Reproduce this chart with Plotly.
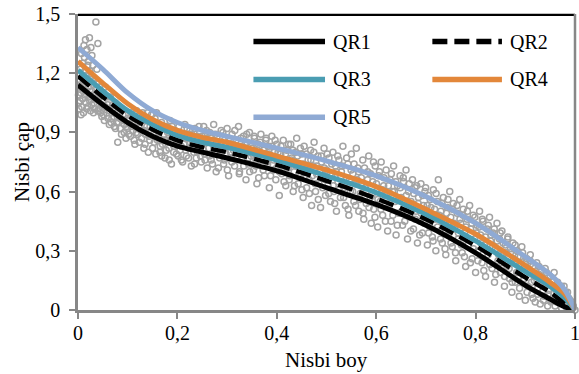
import plotly.graph_objects as go

# ---------------- data ----------------
curve_x = [0.0, 0.05, 0.10, 0.15, 0.20, 0.25, 0.30, 0.40, 0.50, 0.60, 0.70, 0.80, 0.90, 0.95, 0.98, 1.0]
qr1 = [1.14, 1.04, 0.95, 0.88, 0.83, 0.80, 0.77, 0.705, 0.62, 0.535, 0.43, 0.29, 0.125, 0.055, 0.015, 0.0]
qr2 = [1.185, 1.08, 0.985, 0.915, 0.86, 0.825, 0.80, 0.735, 0.655, 0.565, 0.46, 0.325, 0.165, 0.09, 0.03, 0.0]
qr3 = [1.215, 1.11, 1.01, 0.94, 0.885, 0.85, 0.825, 0.76, 0.68, 0.595, 0.485, 0.35, 0.195, 0.12, 0.06, 0.0]
qr4 = [1.26, 1.15, 1.045, 0.965, 0.91, 0.875, 0.85, 0.78, 0.71, 0.625, 0.51, 0.385, 0.225, 0.14, 0.08, 0.0]
qr5 = [1.33, 1.22, 1.10, 1.01, 0.95, 0.91, 0.88, 0.82, 0.755, 0.68, 0.575, 0.44, 0.27, 0.18, 0.10, 0.0]

series_names = ["QR1", "QR2", "QR3", "QR4", "QR5"]

observed_points = [
    (0.002,1.02),(0.004,1.06),(0.006,1.10),(0.003,1.14),(0.008,1.18),(0.005,1.22),(0.010,1.25),(0.007,1.30),
    (0.012,1.34),(0.015,1.37),(0.018,1.32),(0.013,1.28),(0.016,1.05),(0.011,1.00),(0.014,1.09),(0.009,1.12),
    (0.020,1.03),(0.022,1.08),(0.019,1.15),(0.024,1.21),(0.021,1.26),(0.026,1.33),(0.028,1.29),(0.030,1.24),
    (0.025,1.01),(0.027,1.11),(0.032,1.05),(0.034,1.17),(0.036,1.46),(0.038,1.22),(0.040,1.35),(0.001,1.09),
    (0.006,0.99),(0.017,1.19),(0.023,1.38),(0.031,1.00),(0.035,1.12),(0.039,1.08),(0.004,1.16),(0.029,1.17),
    (0.042,1.02),(0.045,1.10),(0.048,0.98),(0.050,1.06),(0.053,0.96),(0.055,1.13),(0.058,1.00),(0.060,1.04),
    (0.063,0.94),(0.065,1.08),(0.068,0.97),(0.070,1.01),(0.073,0.93),(0.075,1.05),(0.078,0.95),(0.080,0.85),
    (0.082,0.99),(0.085,0.92),(0.088,1.02),(0.090,0.96),(0.093,0.90),(0.095,0.99),(0.098,0.93),
    (0.100,0.97),(0.102,0.89),(0.105,0.94),(0.108,1.00),(0.110,0.91),(0.113,0.86),(0.115,0.95),(0.118,1.01),
    (0.120,0.89),(0.123,0.93),(0.125,0.99),(0.128,0.87),(0.130,1.00),(0.133,0.91),(0.135,0.84),(0.138,0.96),
    (0.140,1.00),(0.143,0.88),(0.145,0.93),(0.148,0.99),(0.150,0.82),(0.153,0.90),(0.155,0.97),(0.158,1.00),
    (0.160,0.86),
    (0.163,0.92),(0.165,0.80),(0.168,0.95),(0.170,0.84),(0.173,0.89),(0.175,0.77),(0.178,0.93),(0.180,0.86),
    (0.183,0.82),(0.185,0.96),(0.188,0.74),(0.190,0.88),(0.193,0.83),(0.195,0.91),(0.198,0.79),(0.200,0.86),
    (0.203,0.93),(0.205,0.81),(0.208,0.76),(0.210,0.89),(0.213,0.84),(0.215,0.94),(0.218,0.78),(0.220,0.87),
    (0.223,0.82),(0.225,0.91),(0.228,0.73),(0.230,0.85),(0.233,0.80),(0.235,0.92),(0.238,0.77),(0.240,0.88),
    (0.243,0.83),(0.245,0.90),(0.248,0.75),
    (0.250,0.84),(0.253,0.93),(0.255,0.79),(0.258,0.87),(0.260,0.72),(0.263,0.82),(0.265,0.90),(0.268,0.76),
    (0.270,0.85),(0.273,0.94),(0.275,0.80),(0.278,0.70),(0.280,0.88),(0.283,0.83),(0.285,0.77),(0.288,0.91),
    (0.290,0.81),(0.293,0.74),(0.295,0.86),(0.298,0.79),(0.300,0.92),(0.303,0.68),(0.305,0.84),(0.308,0.77),
    (0.310,0.89),(0.313,0.81),(0.315,0.73),(0.318,0.86),(0.320,0.78),(0.323,0.93),(0.325,0.70),(0.328,0.83),
    (0.330,0.76),(0.333,0.88),(0.335,0.80),(0.338,0.66),(0.340,0.85),(0.343,0.74),(0.345,0.90),(0.348,0.78),
    (0.350,0.82),(0.353,0.71),(0.355,0.87),(0.358,0.76),(0.360,0.64),(0.363,0.84),(0.365,0.79),(0.368,0.89),
    (0.370,0.73),(0.373,0.81),(0.375,0.68),(0.378,0.86),(0.380,0.75),(0.383,0.83),(0.385,0.62),(0.388,0.78),
    (0.390,0.88),(0.393,0.71),(0.395,0.80),(0.398,0.66),
    (0.400,0.84),(0.403,0.74),(0.405,0.58),(0.408,0.79),(0.410,0.69),(0.413,0.86),(0.415,0.76),(0.418,0.63),
    (0.420,0.81),(0.423,0.72),(0.425,0.66),(0.428,0.84),(0.430,0.77),(0.433,0.60),(0.435,0.70),(0.438,0.80),
    (0.440,0.87),(0.443,0.64),(0.445,0.74),(0.448,0.68),(0.450,0.79),(0.453,0.57),(0.455,0.83),(0.458,0.71),
    (0.460,0.62),(0.463,0.76),(0.465,0.66),(0.468,0.81),(0.470,0.53),(0.473,0.73),(0.475,0.85),(0.478,0.60),
    (0.480,0.69),(0.483,0.78),(0.485,0.64),(0.488,0.52),(0.490,0.75),(0.493,0.67),(0.495,0.82),(0.498,0.58),
    (0.500,0.71),(0.503,0.63),(0.505,0.77),(0.508,0.55),(0.510,0.68),(0.513,0.80),(0.515,0.60),(0.518,0.73),
    (0.520,0.50),(0.523,0.65),(0.525,0.76),(0.528,0.57),(0.530,0.70),(0.533,0.83),(0.535,0.62),(0.538,0.53),
    (0.540,0.67),(0.543,0.74),(0.545,0.48),(0.548,0.60),
    (0.550,0.79),(0.553,0.69),(0.555,0.55),(0.558,0.64),(0.560,0.82),(0.563,0.72),(0.565,0.50),(0.568,0.59),
    (0.570,0.67),(0.573,0.76),(0.575,0.46),(0.578,0.62),(0.580,0.54),(0.583,0.70),(0.585,0.78),(0.588,0.57),
    (0.590,0.44),(0.593,0.65),(0.595,0.51),(0.598,0.73),(0.600,0.60),(0.603,0.42),(0.605,0.68),(0.608,0.55),
    (0.610,0.75),(0.613,0.48),(0.615,0.63),(0.618,0.58),(0.620,0.71),(0.623,0.40),(0.625,0.52),(0.628,0.66),
    (0.630,0.45),(0.633,0.60),(0.635,0.73),(0.638,0.55),(0.640,0.38),(0.643,0.63),(0.645,0.49),(0.648,0.68),
    (0.650,0.57),(0.653,0.43),(0.655,0.65),(0.658,0.52),(0.660,0.71),(0.663,0.36),(0.665,0.60),(0.668,0.47),
    (0.670,0.55),(0.673,0.66),(0.675,0.41),(0.678,0.62),(0.680,0.50),(0.683,0.34),(0.685,0.57),(0.688,0.45),
    (0.690,0.64),(0.693,0.39),(0.695,0.53),(0.698,0.60),
    (0.700,0.48),(0.703,0.33),(0.705,0.58),(0.708,0.42),(0.710,0.52),(0.713,0.37),(0.715,0.61),(0.718,0.46),
    (0.720,0.30),(0.723,0.55),(0.725,0.66),(0.728,0.40),(0.730,0.50),(0.733,0.34),(0.735,0.57),(0.738,0.44),
    (0.740,0.28),(0.743,0.52),(0.745,0.38),(0.748,0.60),(0.750,0.47),(0.753,0.32),(0.755,0.54),(0.758,0.41),
    (0.760,0.25),(0.763,0.49),(0.765,0.36),(0.768,0.56),(0.770,0.44),(0.773,0.29),(0.775,0.51),(0.778,0.39),
    (0.780,0.22),(0.783,0.46),(0.785,0.33),(0.788,0.53),(0.790,0.41),(0.793,0.26),(0.795,0.48),(0.798,0.36),
    (0.800,0.19),(0.803,0.43),(0.805,0.30),(0.808,0.50),(0.810,0.38),(0.813,0.24),(0.815,0.45),(0.818,0.33),
    (0.820,0.17),(0.823,0.41),(0.825,0.28),(0.828,0.47),(0.830,0.35),(0.833,0.21),(0.835,0.39),(0.838,0.14),
    (0.840,0.31),(0.843,0.44),(0.845,0.25),(0.848,0.36),
    (0.850,0.19),(0.853,0.40),(0.855,0.28),(0.858,0.12),(0.860,0.33),(0.863,0.22),(0.865,0.37),(0.868,0.16),
    (0.870,0.29),(0.873,0.09),(0.875,0.34),(0.878,0.24),(0.880,0.14),(0.883,0.30),(0.885,0.19),(0.888,0.07),
    (0.890,0.27),(0.893,0.32),(0.895,0.15),(0.898,0.22),(0.900,0.05),(0.903,0.26),(0.905,0.12),(0.908,0.19),
    (0.910,0.28),(0.913,0.08),(0.915,0.22),(0.918,0.15),(0.920,0.04),(0.923,0.24),(0.925,0.11),(0.928,0.18),
    (0.930,0.03),(0.933,0.20),(0.935,0.13),(0.938,0.07),(0.940,0.21),(0.943,0.15),(0.945,0.02),(0.948,0.10),
    (0.950,0.17),(0.953,0.05),(0.955,0.12),(0.958,0.19),(0.960,0.02),(0.963,0.09),(0.965,0.14),(0.968,0.05),
    (0.970,0.11),(0.973,0.01),(0.975,0.08),(0.978,0.12),(0.980,0.03),(0.983,0.06),(0.985,0.09),(0.988,0.02),
    (0.990,0.05),(0.993,0.03),(0.996,0.01),(1.000,0.00),
    # second batch
    (0.0015,1.05),(0.0035,1.20),(0.0055,1.13),(0.0075,1.03),(0.0095,1.07),(0.0115,1.16),(0.0135,1.21),(0.0155,1.11),
    (0.0175,1.02),(0.0195,1.24),(0.0215,1.13),(0.0235,1.06),(0.0255,1.18),(0.0275,1.04),(0.0295,1.09),(0.0315,1.14),
    (0.0335,1.02),(0.0355,1.07),(0.0375,1.15),(0.0395,1.01),(0.0415,1.06),(0.0435,1.13),(0.0455,1.00),(0.0475,1.04),
    (0.0515,0.99),(0.0545,1.03),(0.0575,1.08),(0.0605,0.97),(0.0635,1.01),(0.0665,0.95),(0.0695,1.04),(0.0725,0.98),
    (0.0755,0.92),(0.0785,1.00),(0.0815,0.95),(0.0845,0.97),(0.0875,0.89),(0.0905,0.99),(0.0935,0.94),(0.0965,0.87),
    (0.0995,0.92),(0.1025,0.96),(0.1055,0.88),(0.1085,0.93),(0.1115,0.97),(0.1145,0.84),(0.1175,0.90),(0.1205,0.95),
    (0.1235,0.85),(0.1265,0.91),(0.1295,0.96),(0.1325,0.82),(0.1355,0.89),(0.1385,0.93),(0.1415,0.80),(0.1445,0.86),
    (0.1475,0.91),
    (0.1505,0.95),(0.1535,0.85),(0.1565,0.79),(0.1595,0.91),(0.1625,0.87),(0.1655,0.83),(0.1685,0.78),(0.1715,0.92),
    (0.1745,0.86),(0.1775,0.81),(0.1805,0.90),(0.1835,0.76),(0.1865,0.85),(0.1895,0.93),(0.1925,0.80),(0.1955,0.87),
    (0.1985,0.84),(0.2015,0.78),(0.2045,0.90),(0.2075,0.83),(0.2105,0.75),(0.2135,0.87),(0.2165,0.81),(0.2195,0.92),
    (0.2225,0.77),(0.2255,0.85),(0.2285,0.89),(0.2315,0.82),(0.2345,0.74),(0.2375,0.86),(0.2405,0.80),(0.2435,0.93),
    (0.2465,0.78),(0.2495,0.88),
    (0.2525,0.81),(0.2555,0.76),(0.2585,0.91),(0.2615,0.85),(0.2645,0.78),(0.2675,0.88),(0.2705,0.74),(0.2735,0.82),
    (0.2765,0.89),(0.2795,0.79),(0.2825,0.72),(0.2855,0.85),(0.2885,0.80),(0.2915,0.90),(0.2945,0.76),(0.2975,0.83),
    (0.3005,0.71),(0.3035,0.87),(0.3065,0.80),(0.3095,0.75),(0.3125,0.84),(0.3155,0.91),(0.3185,0.77),(0.3215,0.82),
    (0.3245,0.69),(0.3275,0.87),(0.3305,0.79),(0.3335,0.73),(0.3365,0.84),(0.3395,0.89),(0.3425,0.77),(0.3455,0.70),
    (0.3485,0.83),(0.3515,0.79),(0.3545,0.88),(0.3575,0.73),(0.3605,0.81),(0.3635,0.67),(0.3665,0.85),(0.3695,0.77),
    (0.3725,0.71),(0.3755,0.82),(0.3785,0.87),(0.3815,0.74),(0.3845,0.79),(0.3875,0.68),(0.3905,0.83),(0.3935,0.76),
    (0.3965,0.86),(0.3995,0.72),
    (0.4025,0.80),(0.4055,0.70),(0.4085,0.83),(0.4115,0.75),(0.4145,0.65),(0.4175,0.79),(0.4205,0.72),(0.4235,0.84),
    (0.4265,0.68),(0.4295,0.76),(0.4325,0.81),(0.4355,0.63),(0.4385,0.73),(0.4415,0.78),(0.4445,0.69),(0.4475,0.82),
    (0.4505,0.61),(0.4535,0.74),(0.4565,0.67),(0.4595,0.79),(0.4625,0.71),(0.4655,0.59),(0.4685,0.76),(0.4715,0.68),
    (0.4745,0.80),(0.4775,0.64),(0.4805,0.73),(0.4835,0.56),(0.4865,0.70),(0.4895,0.78),(0.4925,0.62),(0.4955,0.72),
    (0.4985,0.66),(0.5015,0.79),(0.5045,0.59),(0.5075,0.69),(0.5105,0.74),(0.5135,0.63),(0.5165,0.54),(0.5195,0.70),
    (0.5225,0.78),(0.5255,0.61),(0.5285,0.67),(0.5315,0.73),(0.5345,0.57),(0.5375,0.64),(0.5405,0.77),(0.5435,0.51),
    (0.5465,0.66),(0.5495,0.71),
    (0.5525,0.60),(0.5555,0.74),(0.5585,0.53),(0.5615,0.66),(0.5645,0.70),(0.5675,0.56),(0.5705,0.63),(0.5735,0.49),
    (0.5765,0.72),(0.5795,0.60),(0.5825,0.66),(0.5855,0.52),(0.5885,0.69),(0.5915,0.58),(0.5945,0.75),(0.5975,0.47),
    (0.6005,0.64),(0.6035,0.56),(0.6065,0.70),(0.6095,0.51),(0.6125,0.61),(0.6155,0.67),(0.6185,0.45),(0.6215,0.58),
    (0.6245,0.63),(0.6275,0.54),(0.6305,0.69),(0.6335,0.48),(0.6365,0.60),(0.6395,0.65),(0.6425,0.43),(0.6455,0.56),
    (0.6485,0.62),(0.6515,0.50),(0.6545,0.67),(0.6575,0.45),(0.6605,0.58),(0.6635,0.53),(0.6665,0.64),(0.6695,0.40),
    (0.6725,0.51),(0.6755,0.59),(0.6785,0.46),(0.6815,0.63),(0.6845,0.54),(0.6875,0.38),(0.6905,0.49),(0.6935,0.58),
    (0.6965,0.44),(0.6995,0.62),
    (0.7025,0.53),(0.7055,0.39),(0.7085,0.56),(0.7115,0.47),(0.7145,0.35),(0.7175,0.51),(0.7205,0.59),(0.7235,0.42),
    (0.7265,0.48),(0.7295,0.36),(0.7325,0.54),(0.7355,0.45),(0.7385,0.31),(0.7415,0.49),(0.7445,0.56),(0.7475,0.40),
    (0.7505,0.34),(0.7535,0.51),(0.7565,0.44),(0.7595,0.29),(0.7625,0.53),(0.7655,0.39),(0.7685,0.46),(0.7715,0.33),
    (0.7745,0.48),(0.7775,0.27),(0.7805,0.42),(0.7835,0.50),(0.7865,0.36),(0.7895,0.24),(0.7925,0.44),(0.7955,0.31),
    (0.7985,0.47),(0.8015,0.39),(0.8045,0.25),(0.8075,0.42),(0.8105,0.34),(0.8135,0.46),(0.8165,0.20),(0.8195,0.37),
    (0.8225,0.30),(0.8255,0.43),(0.8285,0.23),(0.8315,0.38),(0.8345,0.32),(0.8375,0.41),(0.8405,0.18),(0.8435,0.35),
    (0.8465,0.28),(0.8495,0.39),
    (0.8525,0.24),(0.8555,0.34),(0.8585,0.17),(0.8615,0.29),(0.8645,0.36),(0.8675,0.21),(0.8705,0.31),(0.8735,0.14),
    (0.8765,0.26),(0.8795,0.33),(0.8825,0.19),(0.8855,0.27),(0.8885,0.11),(0.8915,0.23),(0.8945,0.29),(0.8975,0.16),
    (0.9005,0.24),(0.9035,0.09),(0.9065,0.20),(0.9095,0.25),(0.9125,0.14),(0.9155,0.06),(0.9185,0.21),(0.9215,0.17),
    (0.9245,0.08),(0.9275,0.22),(0.9305,0.13),(0.9335,0.17),(0.9365,0.05),(0.9395,0.14),(0.9425,0.19),(0.9455,0.08),
    (0.9485,0.13),(0.9515,0.04),(0.9545,0.15),(0.9575,0.09),(0.9605,0.12),(0.9635,0.04),(0.9665,0.10),(0.9695,0.07),
    (0.9725,0.12),(0.9755,0.03),(0.9785,0.07),(0.9815,0.09),(0.9845,0.04),(0.9875,0.06),(0.9905,0.02),(0.9935,0.04),
    (0.9965,0.02),
]
scatter_x = [p[0] for p in observed_points]
scatter_y = [p[1] for p in observed_points]

x_tickvals = [0, 0.2, 0.4, 0.6, 0.8, 1.0]
x_ticktext = ["0", "0,2", "0,4", "0,6", "0,8", "1"]
y_tickvals = [0, 0.3, 0.6, 0.9, 1.2, 1.5]
y_ticktext = ["0", "0,3", "0,6", "0,9", "1,2", "1,5"]

# ---------------- styles ----------------
FONT = "Liberation Serif, Times New Roman, serif"
AXIS_GRAY = "#878787"
styles = {
    "QR1": dict(color="#000000", width=5, dash="solid"),
    "QR2": dict(color="#000000", width=4.5, dash="15px,7px"),
    "QR3": dict(color="#4a9db2", width=5, dash="solid"),
    "QR4": dict(color="#e3873a", width=5, dash="solid"),
    "QR5": dict(color="#8faad4", width=5, dash="solid"),
}

fig = go.Figure()
fig.add_trace(go.Scatter(
    x=scatter_x, y=scatter_y, mode="markers", showlegend=False, cliponaxis=False,
    marker=dict(symbol="circle-open", size=6, color="#a3a3a3", line=dict(width=1.5, color="#a3a3a3")),
))
for name, ys in zip(series_names, [qr1, qr2, qr3, qr4, qr5]):
    s = styles[name]
    fig.add_trace(go.Scatter(
        x=curve_x, y=ys, mode="lines", name=name, showlegend=False, cliponaxis=False,
        line=dict(color=s["color"], width=s["width"], dash=s["dash"], shape="spline", smoothing=0.9),
    ))

# manual legend (two columns, long sample lines)
legend_layout = [
    ("QR1", 0.353, 0.497, 0.907), ("QR2", 0.713, 0.853, 0.907),
    ("QR3", 0.353, 0.497, 0.779), ("QR4", 0.713, 0.853, 0.779),
    ("QR5", 0.353, 0.497, 0.651),
]
shapes = []
annotations = []
for name, x0, x1, yy in legend_layout:
    s = styles[name]
    shapes.append(dict(type="line", xref="paper", yref="paper", x0=x0, x1=x1, y0=yy, y1=yy,
                       line=dict(color=s["color"], width=5.5, dash=s["dash"])))
    annotations.append(dict(xref="paper", yref="paper", x=x1 + 0.012, y=yy, text=name, showarrow=False,
                            xanchor="left", yanchor="middle", font=dict(family=FONT, size=20, color="#000")))

# axis titles
annotations.append(dict(xref="paper", yref="paper", x=0.5, y=0, yanchor="top", yshift=-36,
                        text="Nisbi boy", showarrow=False, font=dict(family=FONT, size=21, color="#000")))
annotations.append(dict(xref="paper", yref="paper", x=0, y=0.5, xanchor="center", yanchor="middle",
                        xshift=-56, textangle=-90, text="Nisbi çap", showarrow=False,
                        font=dict(family=FONT, size=21, color="#000")))

# frame: black top line, gray right line
shapes.append(dict(type="line", xref="paper", yref="paper", x0=0, x1=1.0, y0=0.997, y1=0.997, layer="above",
                   line=dict(color="#000000", width=2.2, dash="solid")))
shapes.append(dict(type="line", xref="paper", yref="paper", x0=1.0, x1=1.0, y0=0, y1=1.0, layer="above",
                   line=dict(color=AXIS_GRAY, width=2.5, dash="solid")))

fig.update_layout(
    width=579, height=374,
    margin=dict(l=77.5, r=4, t=13.5, b=64, autoexpand=False),
    paper_bgcolor="white", plot_bgcolor="white",
    font=dict(family=FONT, size=20, color="#000"),
    shapes=shapes, annotations=annotations,
    showlegend=False,
    xaxis=dict(
        range=[0, 1], tickvals=x_tickvals, ticktext=x_ticktext, automargin=False,
        showgrid=False, zeroline=False, showline=True, linecolor=AXIS_GRAY, linewidth=2.5,
        ticks="outside", ticklen=6, tickwidth=1.5, tickcolor=AXIS_GRAY, ticklabeloverflow="allow",
        tickfont=dict(family=FONT, size=20, color="#000"), ticklabelstandoff=-3,
    ),
    yaxis=dict(
        range=[0, 1.5], tickvals=y_tickvals, ticktext=y_ticktext, automargin=False,
        showgrid=False, zeroline=False, showline=True, linecolor=AXIS_GRAY, linewidth=2.5,
        ticks="outside", ticklen=6, tickwidth=1.5, tickcolor=AXIS_GRAY, ticklabeloverflow="allow",
        tickfont=dict(family=FONT, size=20, color="#000"), ticklabelstandoff=5,
    ),
)

# remove the default 8px page margin so the figure sits at the window's top-left corner
fig.write_html(
    "out.html",
    config={"displayModeBar": False},
    post_script="document.body.style.margin='0';document.body.style.overflow='hidden';",
)
